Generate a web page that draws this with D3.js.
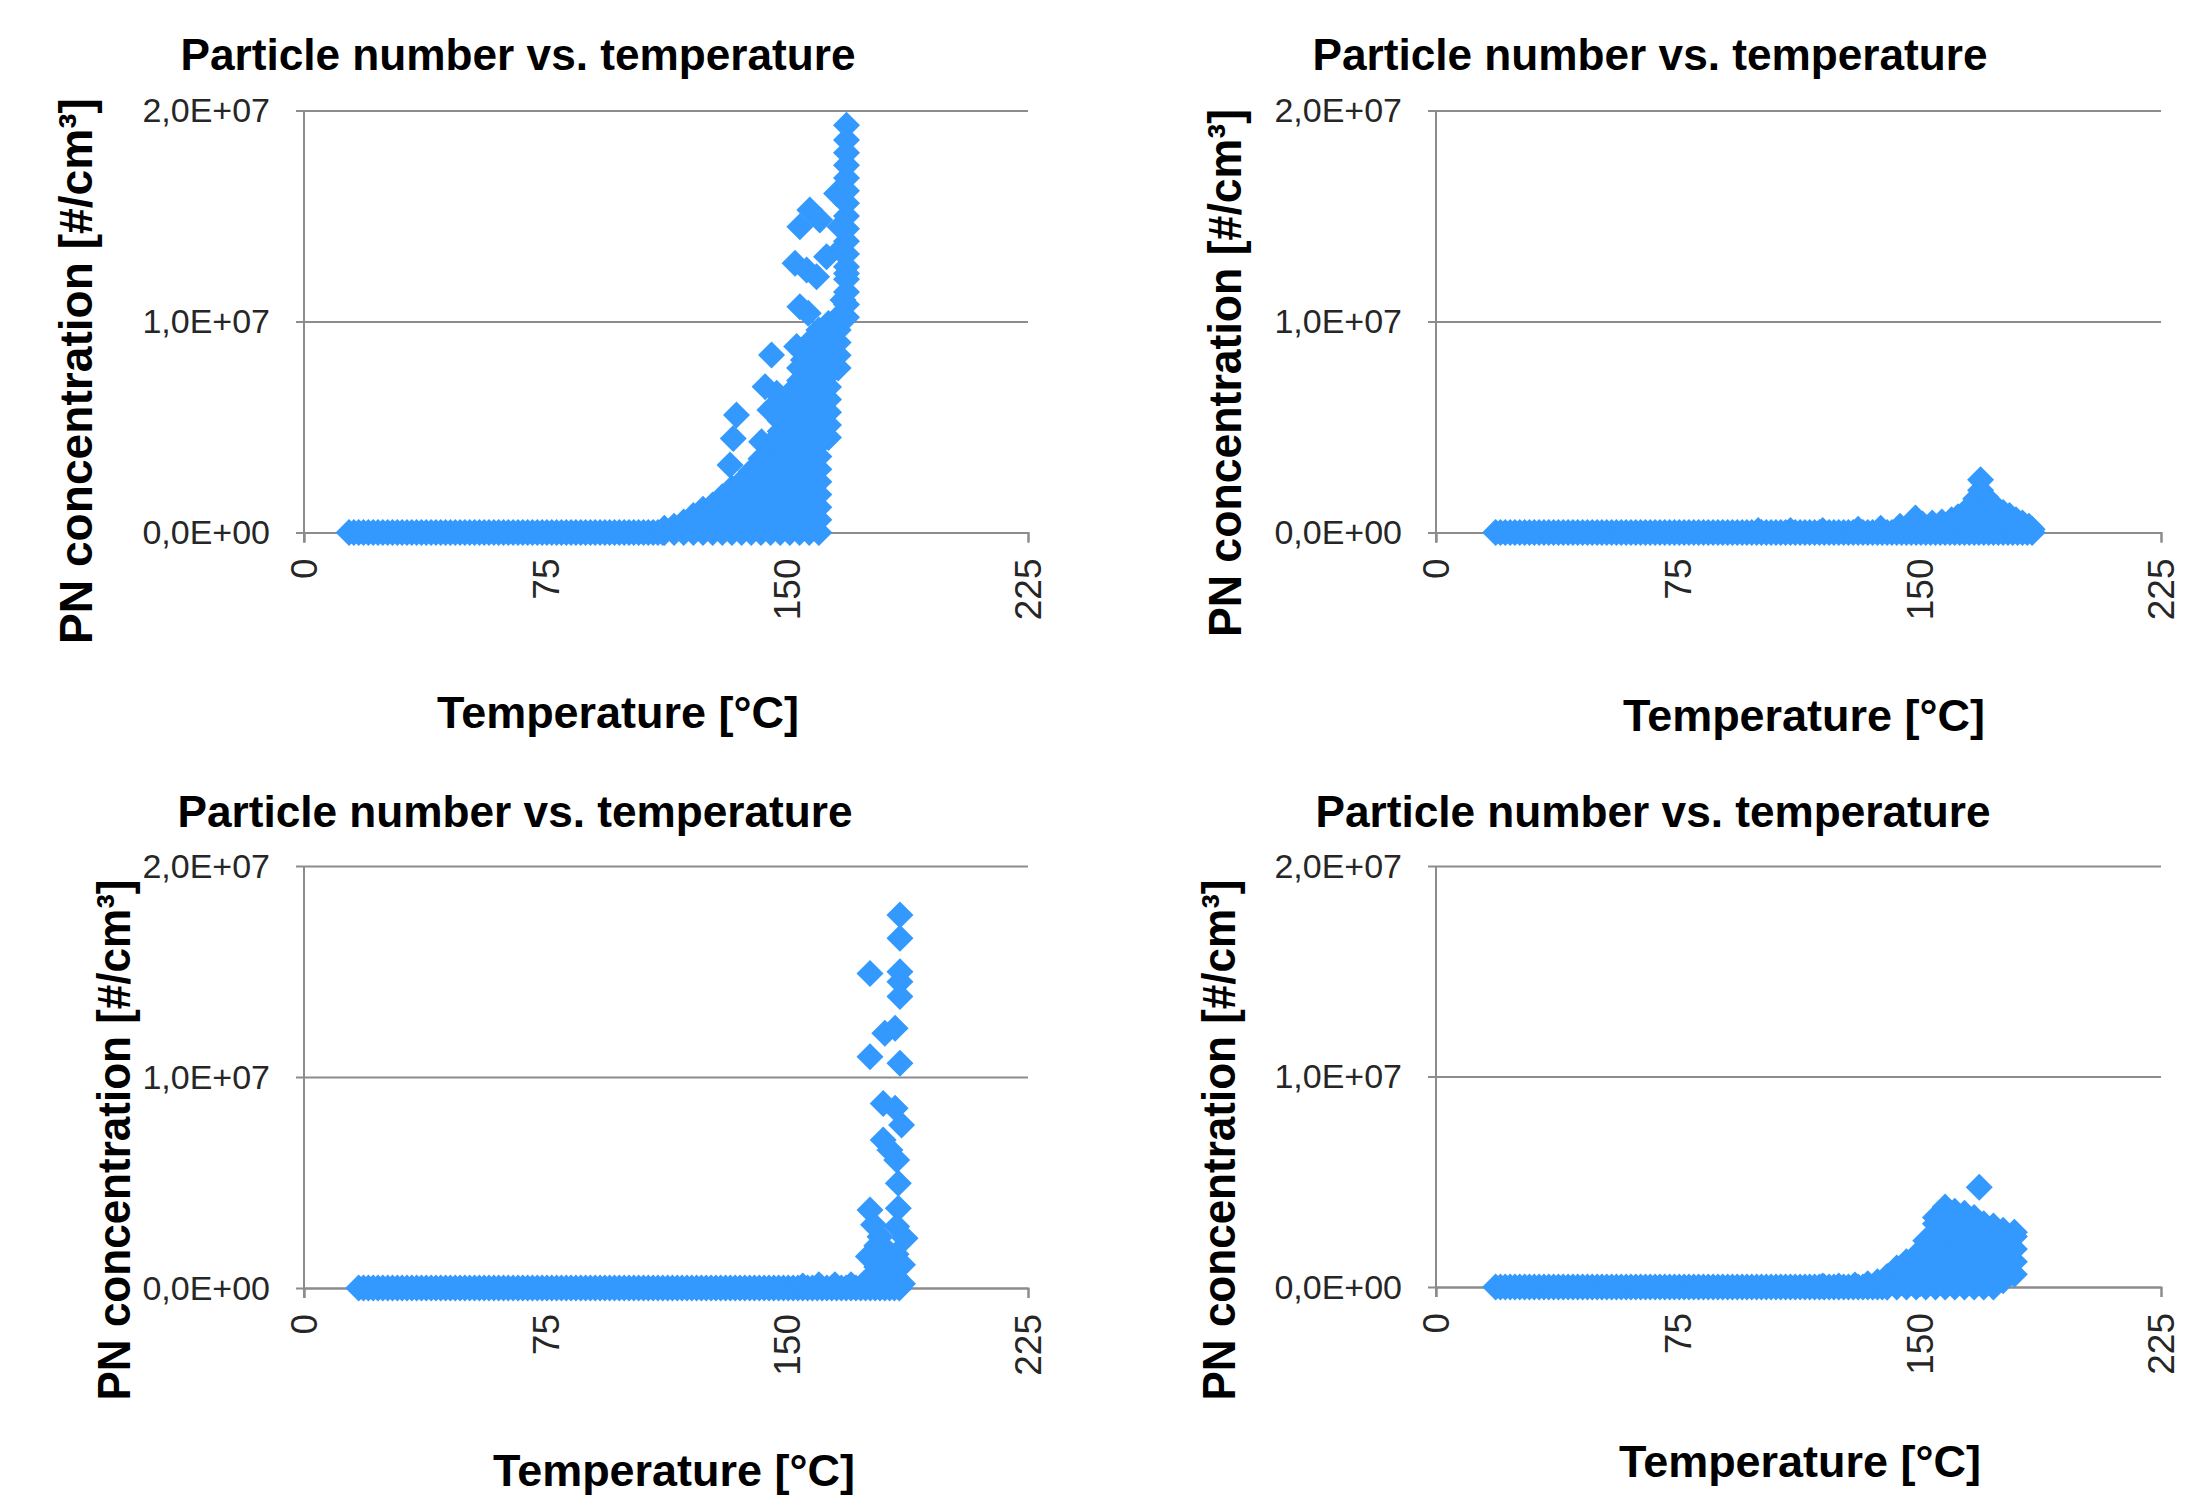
<!DOCTYPE html>
<html><head><meta charset="utf-8">
<script src="https://cdn.jsdelivr.net/npm/d3@7"></script>
<style>body{margin:0;background:#fff}svg{display:block}</style>
</head><body>
<svg id="c" width="2196" height="1504"></svg>
<script>
// ---------- data (temperature °C, PN concentration in 1E+06 #/cm³) ----------
const X_TICKS = [0, 75, 150, 225];
const Y_TICKS = [0, 1e7, 2e7];
const Y_TICK_LABELS = ["0,0E+00", "1,0E+07", "2,0E+07"];
const TITLE = "Particle number vs. temperature";
const X_TITLE = "Temperature [°C]";
const Y_TITLE = "PN concentration [#/cm³]";

// sampled temperatures of the low-concentration band (PN ≈ 0)
const BAND_T = [14,15.5,17,18.5,20,21.5,23,24.5,26,27.5,29,30.5,32,33.5,35,36.5,38,39.5,41,42.5,44,45.5,47,48.5,50,51.5,53,54.5,56,57.5,59,60.5,62,63.5,65,66.5,68,69.5,71,72.5,74,75.5,77,78.5,80,81.5,83,84.5,86,87.5,89,90.5,92,93.5,95,96.5,98,99.5,101,102.5,104,105.5,107,108.5,110,111.5,113,114.5,116,117.5,119,120.5,122,123.5,125,126.5,128,129.5,131,132.5,134,135.5,137,138.5,140,141.5,143,144.5,146,147.5,149,150.5,152,153.5,155,156.5,158,159.5,161,162.5,164,165.5,167,168.5,170,171.5,173,174.5,176,177.5,179,180.5,182,183.5,185];
// band ranges per chart [first, last] °C
const TL_BAND = [14, 111.5];
const TR_BAND = [18.5, 185];
const BL_BAND = [17, 185];
const BR_BAND = [18.5, 140];

// top-left
const TL_COLUMNS = [
  [112,[0,0.2]],[115,[0,0.3]],[118,[0,0.5]],[121,[0,0.4,0.8]],[124,[0,0.6,1.1]],[127,[0,0.6,1.3]],
  [130,[0,0.6,1.2,1.7]],[133,[0,0.6,1.2,1.8,2.1]],[136,[0,0.6,1.2,1.8,2.4]],[139,[0,0.6,1.2,1.8,2.4,2.9]],
  [142,[0,0.6,1.2,1.8,2.4,3.0,3.5]],[145,[0,0.6,1.2,1.8,2.4,3.0,3.6,4.2]],
  [148,[0,0.6,1.2,1.8,2.4,3.0,3.6,4.2,4.8,5.3]],
  [151,[0,0.6,1.2,1.8,2.4,3.0,3.6,4.2,4.8,5.4,6.0,6.6]],
  [154,[0,0.6,1.2,1.8,2.4,3.0,3.6,4.2,4.8,5.4,6.0,6.6,7.2,7.8]],
  [157,[0,0.6,1.2,1.8,2.4,3.0,3.6,4.2,4.8,5.4,6.0,6.6,7.2,7.8,8.4,9.0]],
  [160,[0,0.6,1.2,1.8,2.4,3.0,3.6,4.2,4.8,5.4,6.0,6.6,7.2,7.8,8.4,9.0,9.6]],
  [163,[4.5,5.1,5.7,6.3,6.9,7.5,8.1,8.7,9.3,9.9]],
  [166,[7.8,8.4,9.0,9.6,10.2]],
  [168.6,[10.2,10.8,11.4,12.0,12.6,13.2,13.8,14.4,15.0,15.6,16.2,16.8,17.4,18.0,18.6,19.3]]
];
const TL_SCATTER = [
  [134.4,5.57],[133.4,4.46],[132.4,3.20],[142.2,4.30],[145.3,8.41],[143.3,6.91],[146.9,6.60],[144.8,5.81],
  [153.1,8.81],[155.2,8.18],[156.7,10.39],[154.1,10.70],[152.6,12.76],[156.2,12.44],[159.3,12.12],
  [157.2,15.28],[154.1,14.49],[160.3,14.81],[166.6,14.49],[165.5,16.07],[168.6,12.28],[167.5,11.02],
  [162.4,13.07],[166.6,13.39]
];

// top-right
const TR_POINTS = [
  [100,0.1],[110,0.1],[120,0.1],[131,0.15],[138,0.2],[144,0.3],[148.8,0.69],[151,0.4],[154,0.45],[157,0.5],
  [160,0.6],[162,0.75],[164,0.95],[166,1.2],[167.5,1.6],[169,2.0],[169,2.5],[170.5,1.7],[172,1.4],[174,1.15],
  [176,0.95],[178,0.8],[180,0.6],[182,0.45],[184,0.3],[185,0.15],[158,0.25],[165,0.5],[170,0.9],[175,0.5],
  [180,0.25],[168,0.4],[172,0.7]
];

// bottom-left
const BL_POINTS = [
  [155,0.1],[160,0.15],[165,0.15],[170,0.15],[174,0.2],
  [185.2,17.68],[185.2,16.57],[175.9,14.91],[185.2,14.99],[185.2,14.52],[185.2,13.81],[183.7,12.31],
  [180.5,12.07],[175.9,10.96],[185.2,10.65],[180.0,8.75],[183.7,8.52],[185.7,7.73],[180.0,7.01],
  [182.1,6.54],[184.2,6.07],[184.7,4.96],[175.9,3.70],[184.7,3.78],[179.0,2.43],[184.2,2.91],
  [186.8,2.36],[175.4,1.49],[183.1,1.33],[177,3.0],[178,2.0],[181,1.8],[184,1.6],[186,1.1],
  [176,0.5],[178,0.2],[180,0.4],[182,0.8],[184,0.5],[186,0.2],[178,1.0]
];

// bottom-right
const BR_COLUMNS = [
  [120,[0.05]],[125,[0.05]],[130,[0.1]],[134,[0.15]],[137,[0.25]],[140,[0,0.5]],[143,[0,0.5,0.9]],
  [146,[0,0.6,1.2]],[149,[0,0.6,1.2,1.5]],[152,[0,0.6,1.2,1.8,2.2]],[155,[0,0.6,1.2,1.8,2.4,3.0,3.3]],
  [158,[0,0.6,1.2,1.8,2.4,3.0,3.6,3.8]],[161,[0,0.6,1.2,1.8,2.4,3.0,3.6]],[164,[0,0.6,1.2,1.8,2.4,3.0,3.5]],
  [167,[0,0.6,1.2,1.8,2.4,3.0,3.3]],[170,[0,0.6,1.2,1.8,2.4,3.0]],[173,[0,0.6,1.2,1.8,2.4,2.9]],
  [176,[0.3,0.9,1.5,2.1,2.7]],[179.5,[0.6,1.2,1.8,2.4,2.6]]
];
const BR_SCATTER = [[168.6,4.74]];

// ---------- build point lists ----------
const fromBand = ([a, b]) => BAND_T.filter(t => t >= a && t <= b).map(t => [t, 0]);
const fromCols = cs => cs.flatMap(([t, vs]) => vs.map(v => [t, v]));
const tlData = fromBand(TL_BAND).concat(fromCols(TL_COLUMNS), TL_SCATTER);
const trData = fromBand(TR_BAND).concat(TR_POINTS);
const blData = fromBand(BL_BAND).concat(BL_POINTS);
const brData = fromBand(BR_BAND).concat(fromCols(BR_COLUMNS), BR_SCATTER);

// ---------- layout ----------
const panels = [
  {data: tlData, x0: 304, x1: 1028, yTop: 110.5, yBot: 532.5, tx: 518, ty: 70, lx: 92, ly: 371, ll: 546, ax: 618, ay: 728},
  {data: trData, x0: 1436, x1: 2161, yTop: 110.5, yBot: 532.5, tx: 1650, ty: 70, lx: 1241, ly: 373, ll: 528, ax: 1804, ay: 731},
  {data: blData, x0: 304, x1: 1028, yTop: 866, yBot: 1288, tx: 515, ty: 827, lx: 130, ly: 1140, ll: 521, ax: 674, ay: 1486},
  {data: brData, x0: 1436, x1: 2161, yTop: 866, yBot: 1287, tx: 1653, ty: 827, lx: 1235, ly: 1140, ll: 521, ax: 1800, ay: 1477}
];

const FONT = "'Liberation Sans', Arial, Helvetica, sans-serif";
const GRID = "#8c8c8c";
const MARK = "#3399ff";
const DIAMOND = "M0,-13.5L13.5,0L0,13.5L-13.5,0Z";

const svg = d3.select("#c");

panels.forEach(p => {
  const x = d3.scaleLinear().domain([0, 225]).range([p.x0, p.x1]);
  const y = d3.scaleLinear().domain([0, 2e7]).range([p.yBot, p.yTop]);
  const g = svg.append("g");

  // y axis with gridlines
  const ya = g.append("g").attr("transform", `translate(${p.x0},0)`)
    .call(d3.axisLeft(y).tickValues(Y_TICKS).tickFormat((d, i) => Y_TICK_LABELS[i])
      .tickSizeInner(-(p.x1 - p.x0)).tickSizeOuter(0).tickPadding(34));
  ya.select(".domain").remove();
  ya.selectAll(".tick line").attr("x1", -8).attr("stroke", GRID).attr("stroke-width", 2);
  ya.selectAll(".tick text").attr("font-family", FONT).attr("font-size", 34).attr("fill", "#262626").attr("dy", "0.33em");

  // vertical axis line
  g.append("line").attr("x1", p.x0).attr("x2", p.x0).attr("y1", y(2e7)).attr("y2", y(0) + 10)
    .attr("stroke", GRID).attr("stroke-width", 2);

  // x axis
  const xa = g.append("g").attr("transform", `translate(0,${p.yBot})`)
    .call(d3.axisBottom(x).tickValues(X_TICKS).tickFormat(d3.format("d")).tickSize(10).tickSizeOuter(10));
  xa.select(".domain").attr("stroke", GRID).attr("stroke-width", 2);
  xa.selectAll(".tick line").attr("stroke", GRID).attr("stroke-width", 2);
  xa.selectAll(".tick text").attr("font-family", FONT).attr("font-size", 37).attr("fill", "#262626")
    .attr("transform", "rotate(-90)").attr("text-anchor", "end").attr("x", -26).attr("y", 0).attr("dy", "0.35em");

  // points
  g.append("g").selectAll("path").data(p.data).join("path")
    .attr("d", DIAMOND)
    .attr("transform", d => `translate(${x(d[0])},${y(d[1] * 1e6)})`)
    .attr("fill", MARK);

  // titles
  g.append("text").attr("x", p.tx).attr("y", p.ty).attr("text-anchor", "middle")
    .attr("font-family", FONT).attr("font-weight", "bold").attr("font-size", 44)
    .attr("textLength", 675).attr("lengthAdjust", "spacingAndGlyphs").text(TITLE);
  g.append("text").attr("transform", `translate(${p.lx},${p.ly}) rotate(-90)`).attr("text-anchor", "middle")
    .attr("font-family", FONT).attr("font-weight", "bold").attr("font-size", 46)
    .attr("textLength", p.ll).attr("lengthAdjust", "spacingAndGlyphs").text(Y_TITLE);
  g.append("text").attr("x", p.ax).attr("y", p.ay).attr("text-anchor", "middle")
    .attr("font-family", FONT).attr("font-weight", "bold").attr("font-size", 45)
    .attr("textLength", 362).attr("lengthAdjust", "spacingAndGlyphs").text(X_TITLE);
});
</script>
</body></html>
